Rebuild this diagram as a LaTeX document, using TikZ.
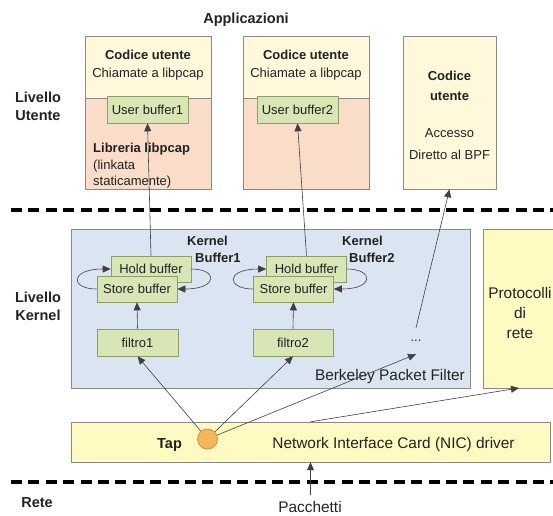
\documentclass[tikz,border=0pt]{standalone}
\usepackage{fontspec}
\setmainfont{Liberation Sans}
\usetikzlibrary{arrows.meta,calc}

\definecolor{cream}{HTML}{FFF8DA}
\definecolor{peach}{HTML}{FADDC8}
\definecolor{bufgreen}{HTML}{D8E5B4}
\definecolor{bufline}{HTML}{8E9E66}
\definecolor{bpfblue}{HTML}{DBE5F1}
\definecolor{drvyellow}{HTML}{FFF9C2}
\definecolor{boxline}{HTML}{8A8A8A}
\definecolor{tapfill}{HTML}{F6B557}
\definecolor{tapline}{HTML}{C0843A}
\definecolor{wire}{HTML}{404040}
\definecolor{ink}{HTML}{222222}

\begin{document}
\begin{tikzpicture}[x=1pt,y=-1pt,
  every node/.style={text=ink},
  area/.style={draw=boxline, line width=0.6pt},
  t13/.style={font=\fontsize{13}{15}\selectfont, inner sep=0pt, text height=9.3pt, text depth=0pt},
  b13/.style={font=\bfseries\fontsize{13}{15}\selectfont, inner sep=0pt, text height=9.3pt, text depth=0pt},
  t15/.style={font=\fontsize{15.4}{18}\selectfont, inner sep=0pt, text height=11pt, text depth=0pt},
  b15/.style={font=\bfseries\fontsize{14.5}{17}\selectfont, inner sep=0pt, text height=10.4pt, text depth=0pt},
  bufbox/.style={draw=bufline, fill=bufgreen, line width=0.6pt, rectangle, inner sep=0pt,
    minimum width=80pt, minimum height=26pt, font=\fontsize{13}{15}\selectfont},
  wireline/.style={draw=wire, line width=0.6pt},
  arrowline/.style={wireline, -{Triangle[length=8pt,width=7pt]}},
  levelsep/.style={line width=4pt, dash pattern=on 11pt off 6.4pt}]

\useasboundingbox (0,0) rectangle (553,515);

% ---------- user level ----------
\node[b15] (ttl) at (246,18) {Applicazioni};
\node[b15] (lu1) at (38,97) {Livello};
\node[b15] (lu2) at (38,115) {Utente};

% application 1 (libpcap)
\filldraw[area, fill=peach] (85,36) rectangle (211,189);
\filldraw[area, fill=cream] (85,36) rectangle (211,98);
\node[b13] (c1a) at (148,55) {Codice utente};
\node[t13] (c1b) at (148,73) {Chiamate a libpcap};
\node[bufbox, minimum width=81pt, minimum height=27pt] (ub1) at (147.5,109.5) {User buffer1};
\node[b13, anchor=west] (lib1) at (93,148) {Libreria libpcap};
\node[t13, anchor=west] (lib2) at (93,165) {(linkata};
\node[t13, anchor=west] (lib3) at (93,181) {staticamente)};

% application 2 (libpcap)
\filldraw[area, fill=peach] (243,36) rectangle (369,189);
\filldraw[area, fill=cream] (243,36) rectangle (369,98);
\node[b13] (c2a) at (306,55) {Codice utente};
\node[t13] (c2b) at (306,73) {Chiamate a libpcap};
\node[bufbox, minimum width=81pt, minimum height=27pt] (ub2) at (297.5,109.5) {User buffer2};

% application 3 (direct BPF access)
\node[area, fill=cream, rectangle, minimum width=93pt, minimum height=153pt, inner sep=0pt] (app3) at (449.5,112.5) {};
\node[b13] (c3a) at (449.5,76) {Codice};
\node[b13] (c3b) at (449.5,96) {utente};
\node[t13] (c3c) at (449.5,133) {Accesso};
\node[t13] (c3d) at (449.5,155) {Diretto al BPF};

\draw[levelsep] (11,209.5) -- (553,209.5);

% ---------- kernel level ----------
\node[b15] (lk1) at (38,297) {Livello};
\node[b15] (lk2) at (38,315) {Kernel};

\filldraw[area, fill=bpfblue] (71,229) rectangle (470,388);
\node[t15, anchor=east] (bpf) at (465,375) {Berkeley Packet Filter};

\filldraw[area, fill=drvyellow] (483,229) rectangle (559,388);
\node[t15] (pr1) at (520,293) {Protocolli};
\node[t15] (pr2) at (520,313) {di};
\node[t15] (pr3) at (520,333) {rete};
\coordinate (proto) at (519,388);

\node[b13, anchor=west] (kb1a) at (187,241) {Kernel};
\node[b13, anchor=west] (kb1b) at (195,258) {Buffer1};
\node[b13, anchor=west] (kb2a) at (342,241) {Kernel};
\node[b13, anchor=west] (kb2b) at (349,258) {Buffer2};

\node[bufbox] (h1) at (151,269) {Hold buffer};
\node[bufbox] (s1) at (137,289) {Store buffer};
\node[bufbox, minimum width=81pt, minimum height=27pt] (f1) at (137.5,342.5) {filtro1};

\node[bufbox] (h2) at (306.5,269) {Hold buffer};
\node[bufbox] (s2) at (293.5,289) {Store buffer};
\node[bufbox, minimum height=27pt] (f2) at (293,342.5) {filtro2};

\node[font=\fontsize{13}{15}\selectfont, inner sep=0pt, minimum height=26pt] (dots) at (416,341) {...};

% buffer swap loops
\draw[arrowline] (s1.west) .. controls +(-27,0) and +(-41,0) .. (h1.west);
\draw[arrowline] (h1.east) .. controls +(27,0) and +(41,0) .. (s1.east);
\draw[arrowline] (s2.west) .. controls +(-27,0) and +(-41,0) .. (h2.west);
\draw[arrowline] (h2.east) .. controls +(27,0) and +(41,0) .. (s2.east);

\draw[arrowline] (f1.north) -- (s1.south);
\draw[arrowline] (f2.north) -- (s2.south);

% kernel buffers up to user buffers
\draw[arrowline] (h1.north) -- (ub1.south);
\draw[arrowline] (h2.north) -- (ub2.south);
\draw[arrowline] (dots.north) -- (app3.south);

% ---------- driver ----------
\filldraw[area, fill=drvyellow] (71,422) rectangle (550,462);
\node (nic) at (310.5,442) [inner sep=0pt, minimum width=479pt, minimum height=40pt] {};
\node[b15] (tap) at (169.5,443) {Tap};
\node[t15] (nictxt) at (393.5,443) {Network Interface Card (NIC) driver};
\node[circle, draw=tapline, fill=tapfill, line width=0.6pt, minimum size=20pt, inner sep=0pt] (tapc) at (207.5,439) {};

\draw[arrowline] (tapc) -- (f1.south);
\draw[arrowline] (tapc) -- (f2.south);
\draw[arrowline] (tapc) -- (dots.south);
\draw[arrowline] (nic.north) -- (proto);

\draw[levelsep] (11,482) -- (553,482);

% ---------- network ----------
\node[b15] (rete) at (37,502) {Rete};
\node[t15] (pac) at (310,507) {Pacchetti};
\coordinate (pactop) at (310.5,495);
\draw[arrowline] (pactop) -- (nic.south);

\end{tikzpicture}
\end{document}
